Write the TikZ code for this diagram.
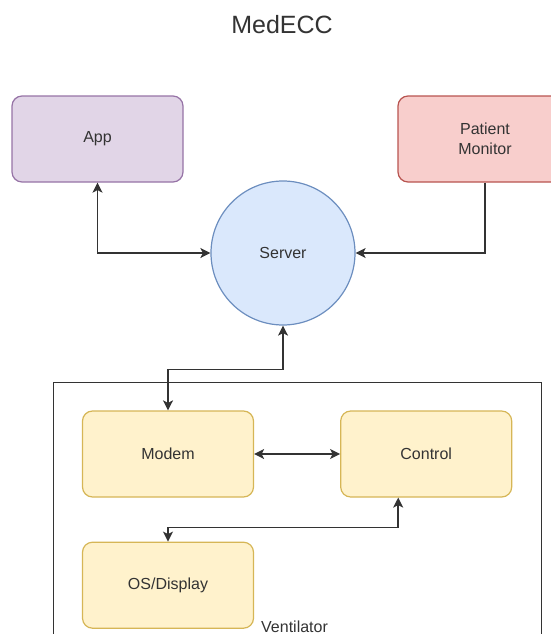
\documentclass[tikz,border=0pt]{standalone}
\usepackage{fontspec}
\setmainfont{Liberation Sans}
\usetikzlibrary{arrows.meta,positioning}
\definecolor{softpurple}{HTML}{E1D5E7}
\definecolor{edgepurple}{HTML}{9673A6}
\definecolor{softred}{HTML}{F8CECC}
\definecolor{edgered}{HTML}{B85450}
\definecolor{softblue}{HTML}{DAE8FC}
\definecolor{edgeblue}{HTML}{6C8EBF}
\definecolor{softyellow}{HTML}{FFF2CC}
\definecolor{edgeyellow}{HTML}{D6B656}
\definecolor{inkgray}{HTML}{333333}

\begin{document}
\begin{tikzpicture}[x=1pt, y=-1pt, >={Stealth[length=10pt,width=10pt,inset=2.5pt]},
    every node/.style={font=\fontsize{16}{20}\selectfont, text=inkgray, align=center},
    box/.style={draw, line width=1.2pt, rounded corners=10pt, minimum width=171pt, minimum height=86pt},
    part/.style={box, fill=softyellow, draw=edgeyellow},
    link/.style={draw=inkgray, line width=1.5pt}]
        \useasboundingbox (0,0) rectangle (551,634);
        \clip (0,0) rectangle (551,634);
        \node[font=\fontsize{25}{30}\selectfont] (title) at (282,25) {MedECC};
        \node[box, fill=softpurple, draw=edgepurple] (app) at (97.5,139) {App};
        \node[box, fill=softred, draw=edgered, minimum width=174pt] (monitor) at (485,139) {Patient\\Monitor};
        \node[circle, draw=edgeblue, fill=softblue, line width=1.2pt, minimum size=144pt] (server) at (283,253) {Server};
        \node[draw=inkgray, line width=1.3pt, minimum width=488pt, minimum height=280pt, anchor=north west] (vent) at (53,382) {};
        \node[part] (modem) at (168,454) {Modem};
        \node[part, right=86pt of modem] (control) {Control};
        \node[part, below=44pt of modem] (osdisp) {OS/Display};
        \node[anchor=base west, inner sep=0pt] (ventlabel) at (261,632) {Ventilator};
        \draw[link, <->] (app.south) |- (server.west);
        \draw[link, ->] (monitor.south) |- (server.east);
        \draw[link, <->] (server.south) -- ++(0,44) -| (modem.north);
        \draw[link, <->] (modem.east) -- (control.west);
        \draw[link, <->] ([xshift=-28pt]control.south) -- ++(0,30) -| (osdisp.north);
      \end{tikzpicture}
\end{document}
